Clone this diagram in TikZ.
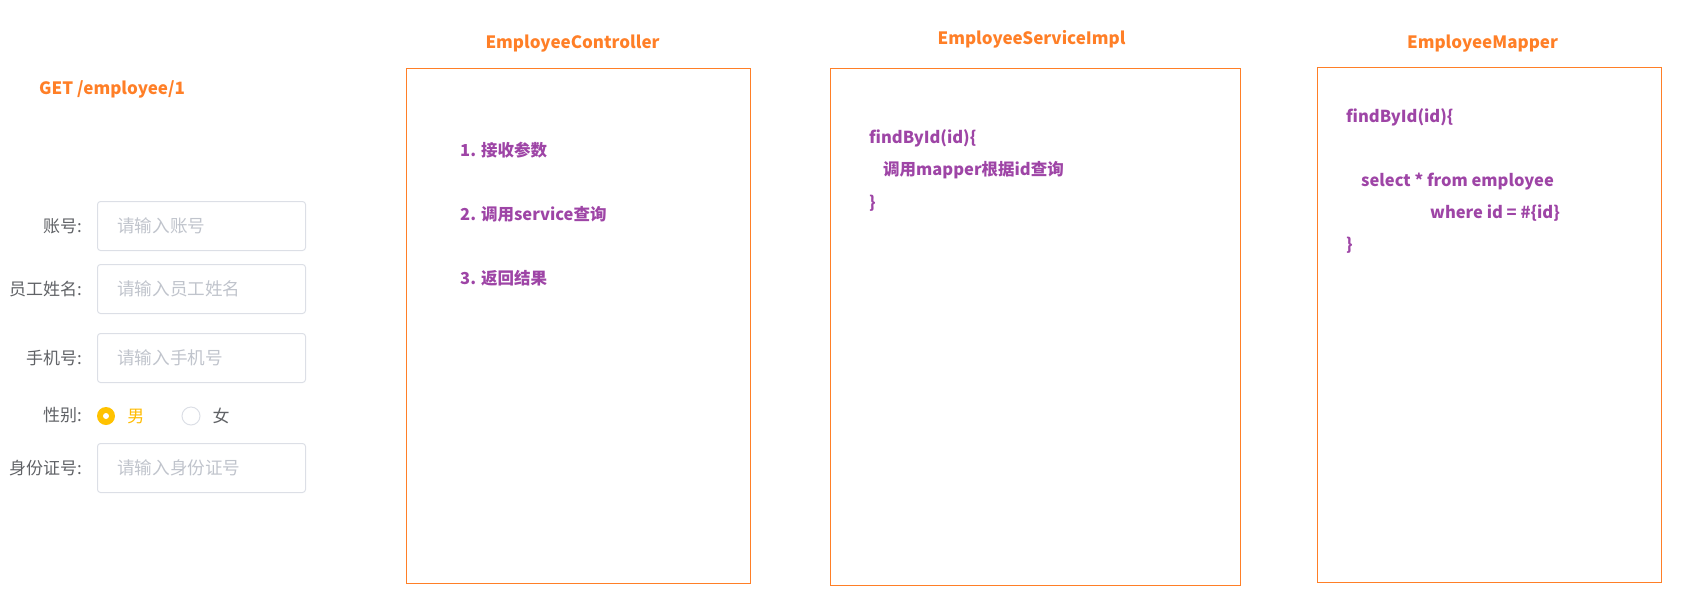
\documentclass[tikz,border=0pt]{standalone}
\usepackage{fontspec}
\setmainfont{Noto Sans CJK SC}
\usetikzlibrary{positioning}
\definecolor{layerorange}{HTML}{FF7F27}
\definecolor{codepurple}{HTML}{9E45A6}
\definecolor{labelgray}{HTML}{606266}
\definecolor{hintgray}{HTML}{C0C4CC}
\definecolor{bordergray}{HTML}{DCDFE6}
\definecolor{radioyellow}{HTML}{FFC200}
\tikzset{
  layer/.style={draw=layerorange,line width=1pt,anchor=north west,inner sep=0},
  layertitle/.style={font=\bfseries\fontsize{17}{17}\selectfont,text=layerorange,inner sep=0},
  codeline/.style={font=\bfseries\fontsize{16.5}{16.5}\selectfont,text=codepurple,anchor=west,inner sep=0},
  field/.style={draw=bordergray,line width=1pt,rounded corners=3pt,anchor=north west,
    minimum width=208pt,minimum height=49pt,inner sep=0},
  hint/.style={font=\fontsize{17.6}{17.6}\selectfont,text=hintgray,inner sep=0},
  formlabel/.style={font=\fontsize{17}{17}\selectfont,text=labelgray,inner sep=0}
}
\begin{document}
\begin{tikzpicture}[x=1pt,y=-1pt]
  \useasboundingbox (0,0) rectangle (1688,595) ;
  % request
  \node[layertitle,anchor=west] (request) at (39,89) {GET /employee/1} ;
  % form
  \foreach \fname/\flabel/\fhint/\ftop in {acct/账号:/请输入账号/201,
    ename/员工姓名:/请输入员工姓名/264, phone/手机号:/请输入手机号/333,
    idno/身份证号:/请输入身份证号/443} {
    \node[field] (f\fname) at (97,\ftop) {} ;
    \node[hint,right=20pt of f\fname.west] (h\fname) {\fhint} ;
    \node[formlabel,left=15pt of f\fname.west] (l\fname) {\flabel} ;
  }
  \node[formlabel,anchor=east] (lsex) at (82,415) {性别:} ;
  \node[circle,fill=radioyellow,minimum size=18pt,inner sep=0] (male) at (106,416) {} ;
  \fill[white] (male) circle [radius=3pt] ;
  \node[formlabel,text=radioyellow!90!orange,right=12pt of male] (lmale) {男} ;
  \node[circle,draw=bordergray,line width=1pt,minimum size=18pt,inner sep=0] (female) at (191,416) {} ;
  \node[formlabel,right=12pt of female] (lfemale) {女} ;
  % three layers
  \node[layer,minimum width=344pt,minimum height=515pt] (ctrl) at (406,68) {} ;
  \node[layer,minimum width=410pt,minimum height=517pt] (service) at (830,68) {} ;
  \node[layer,minimum width=344pt,minimum height=515pt] (mapper) at (1317,67) {} ;
  \node[layertitle,above=16pt of ctrl.north,xshift=-6pt] (tctrl) {EmployeeController} ;
  \node[layertitle,above=20pt of service.north,xshift=-4pt] (tservice) {EmployeeServiceImpl} ;
  \node[layertitle,above=15pt of mapper.north,xshift=-7pt] (tmapper) {EmployeeMapper} ;
  % controller steps
  \node[codeline] (step1) at ([shift={(54,82)}]ctrl.north west) {1. 接收参数} ;
  \node[codeline] (step2) at ([shift={(54,146)}]ctrl.north west) {2. 调用service查询} ;
  \node[codeline] (step3) at ([shift={(54,210)}]ctrl.north west) {3. 返回结果} ;
  % service method
  \node[codeline] (sopen) at ([shift={(39,70)}]service.north west) {findById(id)\{} ;
  \node[codeline] (sbody) at ([shift={(53,102)}]service.north west) {调用mapper根据id查询} ;
  \node[codeline] (sclose) at ([shift={(39,135)}]service.north west) {\}} ;
  % mapper method
  \node[codeline] (mopen) at ([shift={(29,50)}]mapper.north west) {findById(id)\{} ;
  \node[codeline] (msql) at ([shift={(44,115)}]mapper.north west) {select * from employee} ;
  \node[codeline] (mwhere) at ([shift={(113,146)}]mapper.north west) {where id = \#\{id\}} ;
  \node[codeline] (mclose) at ([shift={(29,178)}]mapper.north west) {\}} ;
\end{tikzpicture}
\end{document}
